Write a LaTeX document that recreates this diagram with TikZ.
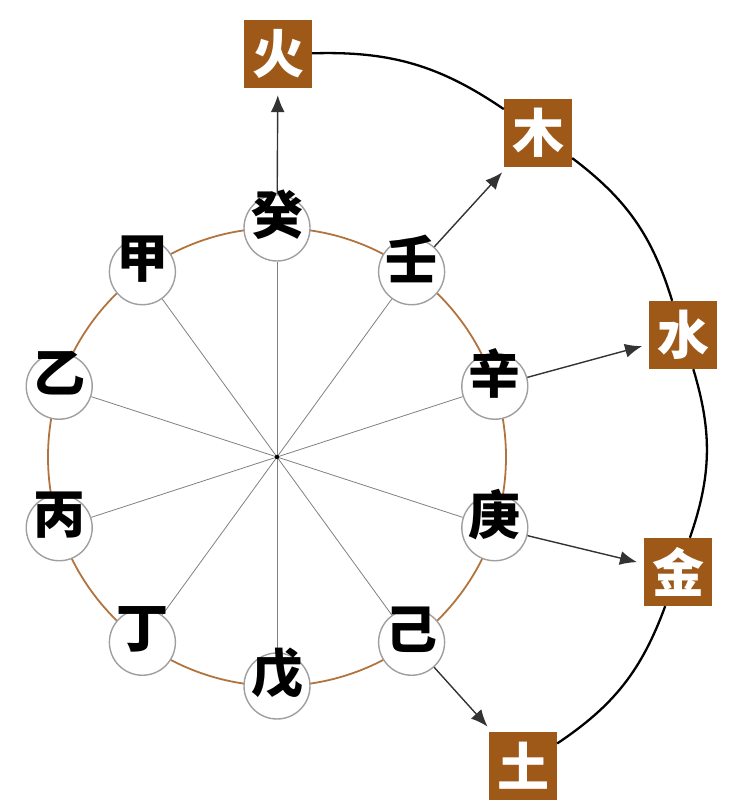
\documentclass[tikz,border=0pt]{standalone}
\usepackage{fontspec}
\newfontfamily\cjk{Noto Sans CJK SC}
\usetikzlibrary{arrows.meta,calc,backgrounds}
\definecolor{brownbox}{RGB}{158,88,24}
\definecolor{ringc}{RGB}{178,116,62}
\begin{document}
\begin{tikzpicture}[x=1pt,y=1pt,
 stem/.style={circle,draw=gray!75,line width=1.4pt,fill=white,minimum size=66pt,inner sep=0pt},
 stemtext/.style={font=\cjk\bfseries\fontsize{52}{52}\selectfont,text=black,inner sep=0pt},
 elem/.style={fill=brownbox,minimum size=68pt,inner sep=0pt,text=white,font=\cjk\bfseries\fontsize{52}{52}\selectfont},
 spoke/.style={gray,line width=0.8pt},
 ring/.style={ringc,line width=1.8pt},
 arr/.style={-{Latex[length=17pt,width=14pt]},black!80,line width=1.4pt,shorten >=7pt},
 cyc/.style={black,line width=2.3pt}]
\useasboundingbox (0,0) rectangle (729,810);
\coordinate (c) at (277,353);
\foreach \n/\a/\t in {gui/90/癸,ren/54/壬,xin/18/辛,geng/-18/庚,ji/-54/己,wu/-90/戊,ding/-126/丁,bing/-162/丙,yi/162/乙,jia/126/甲}{
  \node[stem] (\n) at ($(c)+(\a:229)$) {};
  \node[stemtext] (t-\n) at ($(\n.center)+(0,13)$) {\t};
}
\begin{scope}[on background layer]
\draw[ring] (c) circle[radius=229];
\foreach \n in {gui,ren,xin,geng,ji,wu,ding,bing,yi,jia}
  \draw[spoke] (c) -- (\n);
\fill[black] (c) circle[radius=2.2pt];
\end{scope}
\node[elem] (huo) at (278,756) {火};
\node[elem] (mu) at (538,677) {木};
\node[elem] (shui) at (683,475) {水};
\node[elem] (jin) at (678,238) {金};
\node[elem] (tu) at (523,44) {土};
\draw[cyc] (huo) to[bend left=18] (mu);
\draw[cyc] (mu) to[bend left=18] (shui);
\draw[cyc] (shui) to[bend left=18] (jin);
\draw[cyc] (jin) to[bend left=18] (tu);
\draw[arr] (gui) -- (huo);
\draw[arr] (ren) -- (mu);
\draw[arr] (xin) -- (shui);
\draw[arr] (geng) -- (jin);
\draw[arr] (ji) -- (tu);
\end{tikzpicture}
\end{document}
